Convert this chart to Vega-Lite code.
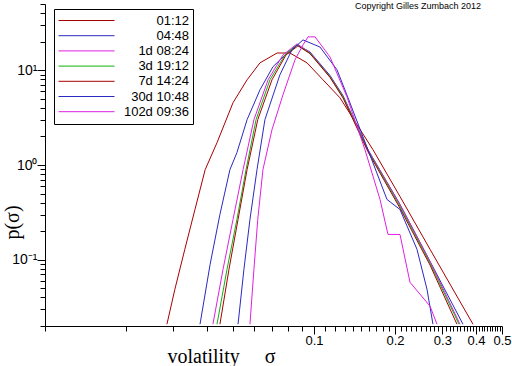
{
"$schema":"https://vega.github.io/schema/vega-lite/v6.json",
"width":457,"height":322,
"autosize":{"type":"none"},
"padding":{"left":45,"top":4,"right":10,"bottom":40},
"background":"white",
"config":{"view":{"stroke":null},"font":"Liberation Sans","axis":{"ticks":true,"tickColor":"black","tickOpacity":1,"tickWidth":1}},
"title":{"text":"Copyright Gilles Zumbach 2012","anchor":"end","frame":"group","offset":-14,"dx":-21,"fontSize":9,"fontWeight":"normal","color":"black","font":"Liberation Sans"},
"data":{"values":[
{"s":"01:12","x":0.0284,"y":0.0209},{"s":"01:12","x":0.0304,"y":0.0488},{"s":"01:12","x":0.0331,"y":0.129},{"s":"01:12","x":0.0361,"y":0.339},{"s":"01:12","x":0.0394,"y":0.894},{"s":"01:12","x":0.0436,"y":1.72},{"s":"01:12","x":0.05,"y":4.54},{"s":"01:12","x":0.0564,"y":7.93},{"s":"01:12","x":0.063,"y":11.97},{"s":"01:12","x":0.0729,"y":15.2},{"s":"01:12","x":0.0814,"y":15.2},{"s":"01:12","x":0.0942,"y":11.97},{"s":"01:12","x":0.108,"y":7.93},{"s":"01:12","x":0.1249,"y":5.12},{"s":"01:12","x":0.1657,"y":1.45},{"s":"01:12","x":0.2088,"y":0.465},{"s":"01:12","x":0.27,"y":0.129},{"s":"01:12","x":0.39,"y":0.0209},
{"s":"04:48","x":0.0377,"y":0.0209},{"s":"04:48","x":0.0411,"y":0.0895},{"s":"04:48","x":0.0447,"y":0.301},{"s":"04:48","x":0.0487,"y":0.894},{"s":"04:48","x":0.0517,"y":1.35},{"s":"04:48","x":0.0564,"y":3.01},{"s":"04:48","x":0.063,"y":6.22},{"s":"04:48","x":0.0704,"y":10.9},{"s":"04:48","x":0.0794,"y":15.2},{"s":"04:48","x":0.0865,"y":18.5},{"s":"04:48","x":0.0966,"y":15.6},{"s":"04:48","x":0.1147,"y":8.8},{"s":"04:48","x":0.1282,"y":5.4},{"s":"04:48","x":0.1587,"y":1.45},{"s":"04:48","x":0.2088,"y":0.383},{"s":"04:48","x":0.27,"y":0.0962},{"s":"04:48","x":0.358,"y":0.0209},
{"s":"1d 08:24","x":0.0421,"y":0.0209},{"s":"1d 08:24","x":0.0459,"y":0.0793},{"s":"1d 08:24","x":0.05,"y":0.266},{"s":"1d 08:24","x":0.0545,"y":0.894},{"s":"1d 08:24","x":0.0598,"y":3.01},{"s":"1d 08:24","x":0.0675,"y":7.93},{"s":"1d 08:24","x":0.0767,"y":14.5},{"s":"1d 08:24","x":0.0865,"y":18.97},{"s":"1d 08:24","x":0.0966,"y":15.4},{"s":"1d 08:24","x":0.1147,"y":8.6},{"s":"1d 08:24","x":0.1282,"y":5.3},{"s":"1d 08:24","x":0.1587,"y":1.45},{"s":"1d 08:24","x":0.2088,"y":0.383},{"s":"1d 08:24","x":0.27,"y":0.0962},{"s":"1d 08:24","x":0.349,"y":0.0209},
{"s":"3d 19:12","x":0.0436,"y":0.0209},{"s":"3d 19:12","x":0.0475,"y":0.0793},{"s":"3d 19:12","x":0.0517,"y":0.266},{"s":"3d 19:12","x":0.0559,"y":0.894},{"s":"3d 19:12","x":0.0609,"y":3.01},{"s":"3d 19:12","x":0.0686,"y":7.93},{"s":"3d 19:12","x":0.078,"y":14.5},{"s":"3d 19:12","x":0.0865,"y":18.5},{"s":"3d 19:12","x":0.0966,"y":15.2},{"s":"3d 19:12","x":0.1147,"y":8.53},{"s":"3d 19:12","x":0.1282,"y":5.25},{"s":"3d 19:12","x":0.1587,"y":1.42},{"s":"3d 19:12","x":0.2088,"y":0.366},{"s":"3d 19:12","x":0.27,"y":0.092},{"s":"3d 19:12","x":0.346,"y":0.0209},
{"s":"7d 14:24","x":0.0447,"y":0.0209},{"s":"7d 14:24","x":0.0483,"y":0.0793},{"s":"7d 14:24","x":0.0522,"y":0.266},{"s":"7d 14:24","x":0.0564,"y":0.894},{"s":"7d 14:24","x":0.0618,"y":3.01},{"s":"7d 14:24","x":0.0698,"y":7.93},{"s":"7d 14:24","x":0.0787,"y":14.5},{"s":"7d 14:24","x":0.0872,"y":18.07},{"s":"7d 14:24","x":0.0966,"y":15.0},{"s":"7d 14:24","x":0.1147,"y":8.4},{"s":"7d 14:24","x":0.1282,"y":5.1},{"s":"7d 14:24","x":0.1587,"y":1.38},{"s":"7d 14:24","x":0.2088,"y":0.35},{"s":"7d 14:24","x":0.27,"y":0.088},{"s":"7d 14:24","x":0.34,"y":0.0209},
{"s":"30d 10:48","x":0.0522,"y":0.0209},{"s":"30d 10:48","x":0.0549,"y":0.0793},{"s":"30d 10:48","x":0.0578,"y":0.266},{"s":"30d 10:48","x":0.0614,"y":0.894},{"s":"30d 10:48","x":0.0657,"y":3.01},{"s":"30d 10:48","x":0.0747,"y":8.95},{"s":"30d 10:48","x":0.0828,"y":16.4},{"s":"30d 10:48","x":0.091,"y":20.9},{"s":"30d 10:48","x":0.1052,"y":17.6},{"s":"30d 10:48","x":0.1218,"y":10.1},{"s":"30d 10:48","x":0.1338,"y":5.12},{"s":"30d 10:48","x":0.1587,"y":1.45},{"s":"30d 10:48","x":0.1868,"y":0.433},{"s":"30d 10:48","x":0.2088,"y":0.339},{"s":"30d 10:48","x":0.2415,"y":0.129},{"s":"30d 10:48","x":0.2631,"y":0.0488},{"s":"30d 10:48","x":0.2769,"y":0.0209},
{"s":"102d 09:36","x":0.0578,"y":0.0209},{"s":"102d 09:36","x":0.0598,"y":0.0793},{"s":"102d 09:36","x":0.0618,"y":0.266},{"s":"102d 09:36","x":0.0646,"y":0.894},{"s":"102d 09:36","x":0.0698,"y":2.36},{"s":"102d 09:36","x":0.0767,"y":5.51},{"s":"102d 09:36","x":0.085,"y":12.9},{"s":"102d 09:36","x":0.091,"y":18.5},{"s":"102d 09:36","x":0.095,"y":22.5},{"s":"102d 09:36","x":0.1009,"y":22.5},{"s":"102d 09:36","x":0.1147,"y":13.8},{"s":"102d 09:36","x":0.1326,"y":5.25},{"s":"102d 09:36","x":0.1547,"y":1.45},{"s":"102d 09:36","x":0.176,"y":0.433},{"s":"102d 09:36","x":0.1884,"y":0.185},{"s":"102d 09:36","x":0.2088,"y":0.185},{"s":"102d 09:36","x":0.2275,"y":0.0578},{"s":"102d 09:36","x":0.27,"y":0.0324},{"s":"102d 09:36","x":0.2866,"y":0.0209}
]},
"mark":{"type":"line","strokeWidth":1,"clip":true},
"encoding":{
"x":{"field":"x","type":"quantitative","scale":{"type":"log","domain":[0.01,0.5],"nice":false},
 "axis":{"title":"volatility\u00a0\u00a0\u00a0\u00a0\u00a0σ","grid":false,"domainColor":"black","tickCount":200,"tickSize":{"condition":{"test":"abs(datum.value*10 - round(datum.value*10)) < 0.001","value":8},"value":5},"labelColor":"black","labelFontSize":13,"labelOverlap":false,"labelBound":false,"labelFlush":false,"labelPadding":0,
 "values":[0.01,0.02,0.03,0.04,0.05,0.06,0.07,0.08,0.09,0.1,0.11,0.12,0.13,0.14,0.15,0.16,0.17,0.18,0.19,0.2,0.21,0.22,0.23,0.24,0.25,0.26,0.27,0.28,0.29,0.3,0.31,0.32,0.33,0.34,0.35,0.36,0.37,0.38,0.39,0.4,0.41,0.42,0.43,0.44,0.45,0.46,0.47,0.48,0.49,0.5],
 "labelExpr":"datum.value >= 0.099 && abs(datum.value*10 - round(datum.value*10)) < 0.001 ? format(datum.value, '.1f') : ''",
 "titleFont":"Liberation Serif","titleFontSize":20,"titleFontWeight":"normal","titleColor":"black","titleAlign":"left","titleAnchor":"start","titleX":122,"titleY":36,"titleBaseline":"alphabetic"}},
"y":{"field":"y","type":"quantitative","scale":{"type":"log","domain":[0.02,50],"nice":false},
 "axis":{"title":"p(σ)","grid":false,"domainColor":"black","tickCount":200,"tickSize":{"condition":{"test":"abs(datum.value-10)<1e-6 || abs(datum.value-1)<1e-6 || abs(datum.value-0.1)<1e-6","value":8},"value":5},"labelColor":"black","labelFontSize":14,"labelOverlap":false,"labelBound":false,"labelFlush":false,"labelPadding":0,
 "values":[0.02,0.03,0.04,0.05,0.06,0.07,0.08,0.09,0.1,0.2,0.3,0.4,0.5,0.6,0.7,0.8,0.9,1,2,3,4,5,6,7,8,9,10,20,30,40,50],
 "labelExpr":"abs(datum.value-10)<1e-6 ? '10¹' : abs(datum.value-1)<1e-6 ? '10⁰' : abs(datum.value-0.1)<1e-6 ? '10⁻¹' : ''",
 "titleFont":"Liberation Serif","titleFontSize":20,"titleFontWeight":"normal","titleColor":"black","titleAngle":-90,"titleX":-33,"titleY":218,"titleAlign":"center","titleBaseline":"middle"}},
"color":{"field":"s","type":"nominal","scale":{"domain":["01:12","04:48","1d 08:24","3d 19:12","7d 14:24","30d 10:48","102d 09:36"],"range":["#a80000","#2a2ac0","#e020e0","#10b010","#a80000","#2a2ac0","#e020e0"]},
 "legend":{"title":null,"orient":"none","legendX":9,"legendY":5,"strokeColor":"black","fillColor":"white","padding":4,"symbolType":"stroke","symbolSize":3136,"symbolStrokeWidth":1,"clipHeight":15,"rowPadding":0.2,"labelAlign":"right","labelOffset":74,"labelFontSize":13,"labelColor":"black","labelFont":"Liberation Sans","labelLimit":200}}
}
}
